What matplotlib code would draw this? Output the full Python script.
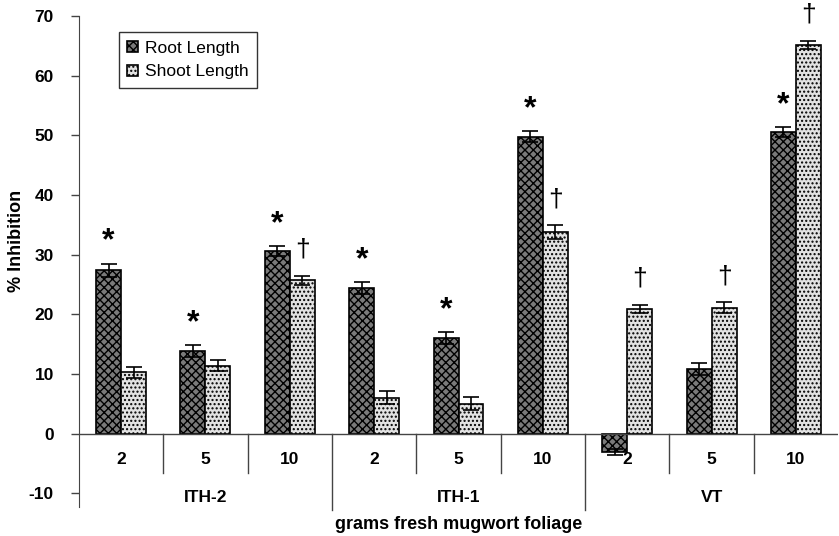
import matplotlib
matplotlib.use("Agg")
import matplotlib.pyplot as plt
import numpy as np

plt.rcParams['font.family'] = ['Liberation Sans', 'DejaVu Sans']
plt.rcParams['axes.unicode_minus'] = False

doses = ["2", "5", "10", "2", "5", "10", "2", "5", "10"]
groups = ["ITH-2", "ITH-1", "VT"]
root = [27.4, 13.8, 30.6, 24.4, 16.0, 49.8, -3.1, 10.8, 50.6]
root_err = [1.1, 1.0, 0.8, 1.0, 1.0, 0.9, 0.5, 1.0, 0.8]
shoot = [10.3, 11.4, 25.7, 6.0, 5.0, 33.8, 20.9, 21.1, 65.1]
shoot_err = [0.9, 0.9, 0.8, 1.1, 1.1, 1.1, 0.7, 0.9, 0.7]
root_star = [True, True, True, True, True, True, False, False, True]
shoot_dagger = [False, False, True, False, False, True, True, True, True]

fig = plt.figure(figsize=(8.39, 5.36), dpi=100)
ax = fig.add_axes([0.094, 0.054, 0.905, 0.916])

x = np.arange(len(doses))
w = 0.296
ax.bar(x - w/2, root, w, yerr=root_err, facecolor='#7a7a7a', edgecolor='black',
       hatch='xxxx', linewidth=1.2, label='Root Length',
       error_kw=dict(ecolor='black', capsize=6, elinewidth=1.2, capthick=1.2), zorder=2)
ax.bar(x + w/2, shoot, w, yerr=shoot_err, facecolor='#e2e2e2', edgecolor='black',
       hatch='....', linewidth=1.2, label='Shoot Length',
       error_kw=dict(ecolor='black', capsize=6, elinewidth=1.2, capthick=1.2), zorder=2)

for i in range(len(doses)):
    if root_star[i]:
        ax.text(x[i] - w/2, root[i] + root_err[i] + 1.2, '*', ha='center', va='bottom',
                fontsize=23, fontweight='bold')
    if shoot_dagger[i]:
        ax.text(x[i] + w/2, shoot[i] + shoot_err[i] + 2.4, '\u2020', ha='center', va='bottom',
                fontsize=19, clip_on=False)

ax.set_xlim(-0.5, len(doses) - 0.5)
ax.set_ylim(-12.3, 70)
ax.set_yticks(np.arange(-10, 71, 10))
for lab in ax.get_yticklabels():
    lab.set_fontweight('bold')
    lab.set_fontsize(12.5)
ax.tick_params(axis='y', direction='out', length=6, width=1, color='#444444', pad=12)
ax.set_xticks([])
for s in ['top', 'right', 'bottom']:
    ax.spines[s].set_visible(False)
ax.spines['left'].set_color('#444444')
ax.axhline(0, color='#444444', linewidth=1.0, zorder=3)

# category separators and labels
for i in range(len(doses)):
    ax.text(x[i], -4.3, doses[i], ha='center', va='center', fontsize=12.5,
            fontweight='bold', clip_on=False)
    if i > 0:
        if i % 3 == 0:
            ax.plot([i - 0.5, i - 0.5], [0, -12.8], color='#444444', lw=1.0, clip_on=False)
        else:
            ax.plot([i - 0.5, i - 0.5], [0, -6.6], color='#444444', lw=1.0, clip_on=False)
for g, name in enumerate(groups):
    ax.text(3 * g + 1, -10.7, name, ha='center', va='center', fontsize=12.5,
            fontweight='bold', clip_on=False)

fig.text(0.547, 0.022, 'grams fresh mugwort foliage', ha='center', va='center',
         fontsize=13, fontweight='bold')
fig.text(0.020, 0.55, '% Inhibition', ha='center', va='center', rotation=90,
         fontsize=13, fontweight='bold')

leg = ax.legend(loc='upper left', bbox_to_anchor=(0.041, 0.985), frameon=True,
                fancybox=False, edgecolor='black', fontsize=12.5, handlelength=0.6,
                handleheight=0.6, handletextpad=0.4, borderpad=0.5, labelspacing=0.5)
leg.get_frame().set_linewidth(1.0)

fig.savefig('out.png', dpi=100)
